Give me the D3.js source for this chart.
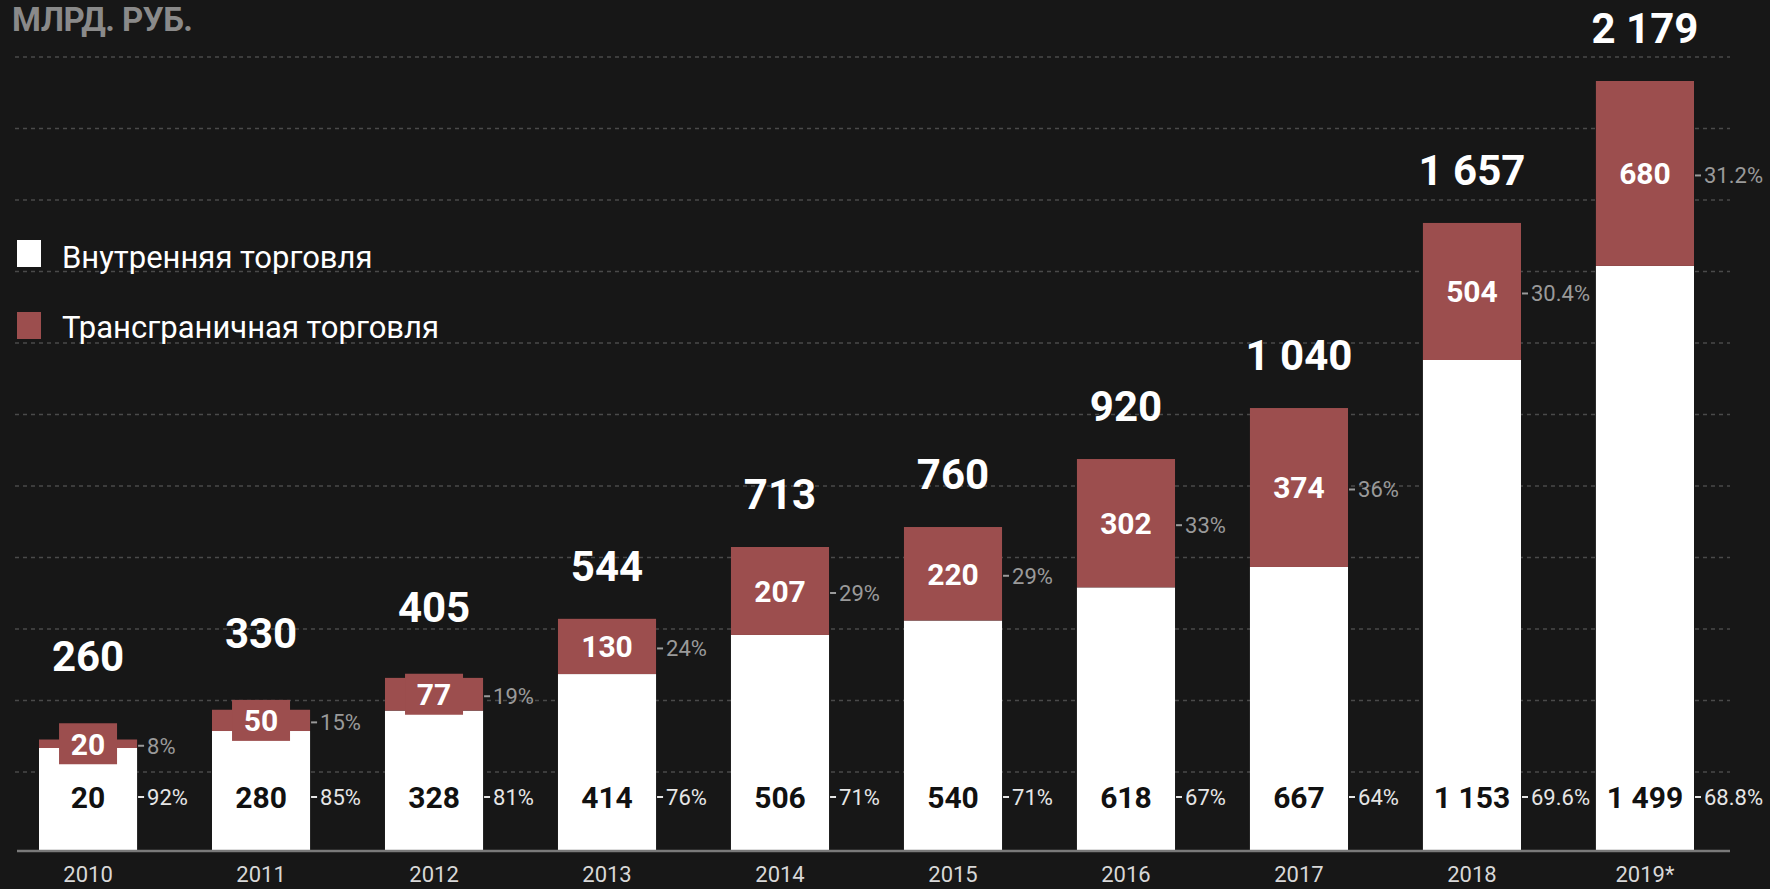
<!DOCTYPE html>
<html>
<head>
<meta charset="utf-8">
<script src="https://cdn.jsdelivr.net/npm/d3@7"></script>
<style>
  body { margin: 0; background: #171717; }
  svg text { font-family: Roboto, "Open Sans", sans-serif; }
</style>
</head>
<body>
<svg id="main_svg" width="1770" height="889"></svg>
<script>
// data
const years = ["2010", "2011", "2012", "2013", "2014", "2015", "2016", "2017", "2018", "2019*"]
const totals = [260, 330, 405, 544, 713, 760, 920, 1040, 1657, 2179]
const cross = [20, 50, 77, 130, 207, 220, 302, 374, 504, 680]
const domestic = [20, 280, 328, 414, 506, 540, 618, 667, 1153, 1499]
const cross_share = [8, 15, 19, 24, 29, 29, 33, 36, 30.4, 31.2]
const domestic_share = [92, 85, 81, 76, 71, 71, 67, 64, 69.6, 68.8]
const legend_labels = ["Внутренняя торговля", "Трансграничная торговля"]

const red = "#9c4e4e"
const fmt = d3.formatLocale({decimal: ".", thousands: " ", grouping: [3], currency: ["", ""]}).format(",")

const svg = d3.select("#main_svg")
const base_y = 850

const x = d3.scaleBand().domain(years).range([39, 1694]).paddingInner(0.433).paddingOuter(0)
// bars in the original get squeezed above ~1150
const y = d3.scaleLinear().domain([0, 1153, 2179]).range([base_y, 360, 81])

// dotted grid
const grid = d3.scaleLinear().domain([0, 10]).range([772, 57])
svg.append("g")
    .selectAll("line")
    .data(d3.range(11))
    .join("line")
    .attr("x1", 15).attr("x2", 1730)
    .attr("y1", d => grid(d)).attr("y2", d => grid(d))
    .attr("stroke", "#4a4a4a")
    .attr("stroke-width", 1.5)
    .attr("stroke-dasharray", "4,4")

// title
svg.append("text")
    .attr("x", 12).attr("y", 31)
    .text("МЛРД. РУБ.")
    .attr("font-size", 33)
    .attr("font-weight", "bold")
    .attr("fill", "#8a8a8a")
    .attr("letter-spacing", -0.5)

// legend
const legend = svg.append("g")
legend_labels.forEach((lab, i) => {
    legend.append("rect")
        .attr("x", 17).attr("y", 240 + i * 72)
        .attr("width", 24).attr("height", 27)
        .attr("fill", i == 0 ? "#ffffff" : red)
    legend.append("text")
        .attr("x", 62).attr("y", 268 + i * 70)
        .text(lab)
        .attr("font-family", "'Open Sans', sans-serif")
        .attr("font-size", 31)
        .attr("fill", "#ffffff")
})

const rows = years.map((yr, i) => ({
    year: yr, total: totals[i], cross: cross[i], dom: domestic[i],
    cs: cross_share[i], ds: domestic_share[i]
}))

const g = svg.append("g")
    .selectAll("g")
    .data(rows)
    .join("g")

// white segment
g.append("rect")
    .attr("x", d => x(d.year))
    .attr("width", x.bandwidth())
    .attr("y", d => y(d.total - d.cross))
    .attr("height", d => base_y - y(d.total - d.cross))
    .attr("fill", "#ffffff")

// red segment
g.append("rect")
    .attr("x", d => x(d.year))
    .attr("width", x.bandwidth())
    .attr("y", d => y(d.total))
    .attr("height", d => y(d.total - d.cross) - y(d.total))
    .attr("fill", red)

const mid = d => (y(d.total) + y(d.total - d.cross)) / 2
const small = d => y(d.total - d.cross) - y(d.total) < 44

// label plate for thin red segments
g.filter(small).append("rect")
    .attr("x", d => x(d.year) + x.bandwidth() / 2 - 29)
    .attr("width", 58)
    .attr("y", d => mid(d) - 20.5)
    .attr("height", 41)
    .attr("fill", red)

g.append("text")
    .attr("x", d => x(d.year) + x.bandwidth() / 2)
    .attr("y", d => mid(d))
    .attr("dy", "0.36em")
    .attr("text-anchor", "middle")
    .text(d => fmt(d.cross))
    .attr("font-size", 30)
    .attr("font-weight", "bold")
    .attr("fill", "#ffffff")

// totals
g.append("text")
    .attr("x", d => x(d.year) + x.bandwidth() / 2)
    .attr("y", d => Math.min(y(d.total), mid(d) - 20.5) - (small(d) ? 52 : 38))
    .attr("text-anchor", "middle")
    .text(d => fmt(d.total))
    .attr("font-size", 42)
    .attr("font-weight", "bold")
    .attr("fill", "#ffffff")

// domestic value row
g.append("text")
    .attr("x", d => x(d.year) + x.bandwidth() / 2)
    .attr("y", 808)
    .attr("text-anchor", "middle")
    .text(d => fmt(d.dom))
    .attr("font-size", 30)
    .attr("font-weight", "bold")
    .attr("fill", "#111111")

// share ticks and labels
function share(sel, ypos, val, col) {
    sel.append("line")
        .attr("x1", d => x(d.year) + x.bandwidth() + 1)
        .attr("x2", d => x(d.year) + x.bandwidth() + 7)
        .attr("y1", ypos).attr("y2", ypos)
        .attr("stroke", col)
        .attr("stroke-width", 2)
    sel.append("text")
        .attr("x", d => x(d.year) + x.bandwidth() + 10)
        .attr("y", ypos)
        .attr("dy", "0.36em")
        .text(d => val(d) + "%")
        .attr("font-size", 22)
        .attr("fill", col)
}
share(g, d => mid(d) + 2, d => d.cs, "#9a9a9a")
share(g, 797, d => d.ds, "#e6e6e6")

// baseline
svg.append("line")
    .attr("x1", 17).attr("x2", 1730)
    .attr("y1", base_y + 1).attr("y2", base_y + 1)
    .attr("stroke", "#7a7a7a")
    .attr("stroke-width", 2.5)

// years
svg.append("g")
    .attr("transform", "translate(0," + base_y + ")")
    .call(d3.axisBottom(x).tickSize(0).tickPadding(16))
    .call(a => a.select(".domain").remove())
    .selectAll("text")
    .attr("font-size", 22)
    .attr("fill", "#d8d8d8")
</script>
</body>
</html>
